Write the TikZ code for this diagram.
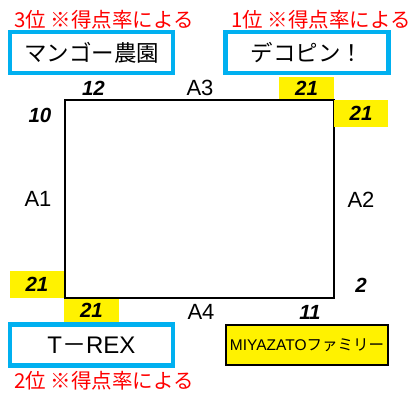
\documentclass[tikz,border=0pt]{standalone}
\usepackage{fontspec}
\setmainfont{Liberation Sans}
\newfontfamily\jpfont{Noto Sans CJK JP}
\definecolor{teamblue}{HTML}{00B0F0}
\begin{document}
\begin{tikzpicture}[x=1pt, y=1pt,
  team/.style={draw=teamblue, line width=4.5pt, fill=white, minimum width=163pt, minimum height=41pt, inner sep=0pt, font=\jpfont\fontsize{22.5}{24}\selectfont},
  rank/.style={text=red, inner sep=0pt, font=\jpfont\fontsize{20.5}{22}\selectfont},
  side/.style={inner sep=0pt, font=\fontsize{22}{24}\selectfont},
  score/.style={inner sep=0pt, font=\bfseries\itshape\fontsize{20.5}{22}\selectfont},
  win/.style={score, fill=yellow, minimum width=55pt, minimum height=23pt}]
  \useasboundingbox (0,0) rectangle (412,392);
  % court
  \node[draw, line width=2pt, minimum width=269pt, minimum height=198pt, inner sep=0pt] (court) at (199.5,193) {};
  % teams
  \node[team] (mango) at (91.5,339.5) {マンゴー農園};
  \node[team] (dekopin) at (307,339.5) {デコピン！};
  \node[team, font=\fontsize{24}{26}\selectfont] (trex) at (91.5,47) {T{\jpfont －}REX};
  \node[draw, line width=2pt, fill=yellow, minimum width=162pt, minimum height=40pt, inner sep=0pt,
    font=\fontsize{15.5}{18}\selectfont] (miyazato) at (307,47) {MIYAZATO{\jpfont ファミリー}};
  % ranks
  \node[rank] (rank3) at (104,372) {3位 ※得点率による};
  \node[rank] (rank1) at (321,372) {1位 ※得点率による};
  \node[rank] (rank2) at (104,11) {2位 ※得点率による};
  % sides
  \node[side] (a1) at (38,193) {A1};
  \node[side] (a2) at (361,192) {A2};
  \node[side] (a3) at (200,304) {A3};
  \node[side] (a4) at (201,80) {A4};
  % scores
  \node[score] (s12) at (93.5,304) {12};
  \node[score] (s10) at (40,277) {10};
  \node[score] (s2) at (361,107) {2};
  \node[score] (s11) at (310,80) {11};
  \node[win, minimum height=22pt] (w3) at (306.5,304) {21};
  \node[win, minimum width=54pt, minimum height=27pt] (w2) at (361,278.5) {21};
  \node[win, minimum width=54pt, minimum height=27pt] (w1) at (37,107.5) {21};
  \node[win] (w4) at (91.5,81.5) {21};
\end{tikzpicture}
\end{document}
